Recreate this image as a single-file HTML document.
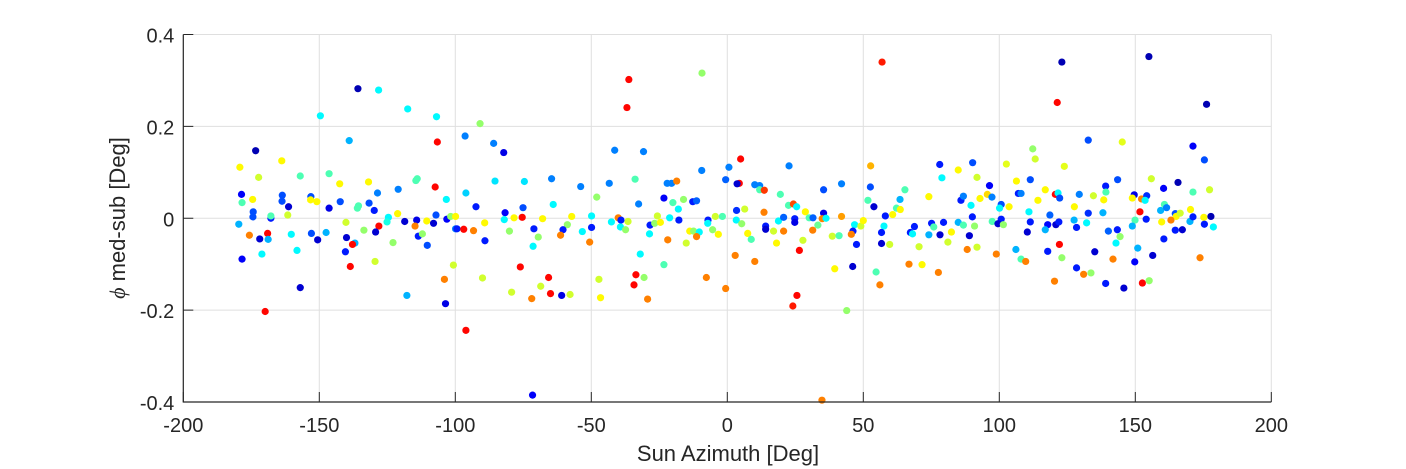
<!DOCTYPE html>
<html><head><meta charset="utf-8"><style>
html,body{margin:0;padding:0;background:#fff;}
svg{display:block;font-family:"Liberation Sans",Arial,sans-serif;}
</style></head><body>
<svg id="chart" width="1406" height="469" viewBox="0 0 1406 469" xmlns="http://www.w3.org/2000/svg">
<g id="grid"></g>
<g id="points"></g>
<g id="axes"></g>
<text x="728" y="461" font-size="22" text-anchor="middle" fill="#262626">Sun Azimuth [Deg]</text>
<text transform="translate(125,218) rotate(-90)" font-size="22" text-anchor="middle" fill="#262626"><tspan font-style="italic" font-family="Liberation Serif, serif">ϕ</tspan> med-sub [Deg]</text>
</svg>
<script>
const az = [
-135.8,-128.2,-149.6,-117.5,-106.9,-139,-106.6,-173.4,-179.2,-163.8,-172.3,-157,-146.4,-142.5,-131.9,-114,-114.5,-107.4,-121,-178.6,-178.4,-174.5,-163.6,-163.7,-161.3,-153.1,-153.2,-150.9,-146.4,-142.3,-128.6,-131.7,-135.6,-136,-129.8,-174.3,-174.4,-167.8,-167.8,-161.6,-179.6,-175.7,-171.9,-169,-168.8,-171.1,-178.4,-160.3,-158.2,-152.9,-150.6,-147.5,-157,-169.9,-140.2,-140,-136.9,-137.8,-140.4,-138.6,-133.6,-128.1,-129.3,-129.5,-122.9,-124.6,-125.1,-121.2,-118.6,-114.2,-114.8,-113.6,-112.1,-110.5,-110.3,-108,-107.1,-117.8,-103.3,-103.1,-104,-103.6,-101.7,-99.9,-99.9,-100.7,
-9.3,-36.2,-36.9,-90.9,-96.4,-85.9,-82.2,-41.4,-30.8,4.9,-9.4,4.4,-0.6,-96.1,-85.4,-74.6,-64.6,-53.9,-48,-43.4,-33.9,-22.1,-20.5,-18.6,-92.4,-81.7,-75.1,-64,-82,-78.4,-75.4,-67.9,-57.2,-58.8,-89.2,-99.4,-96.9,-93.3,-89.1,-80.1,-71.1,-69.5,-71.4,-60.4,-61.3,-53.3,-49.9,-49.9,-50.6,-90,-76.1,-79.3,-71.9,-68.6,-65.7,-65,-60.9,-57.8,-96.1,-71.6,-47.2,-46.6,-42.6,-40.1,-39.1,-39.3,-37.4,-36.5,-32.6,-28.4,-26.7,-25.7,-24.6,-28.6,-32,-33.6,-34.3,-30.6,-29.3,-23.3,-20,-16.1,-18,-21.2,-17.8,-21.9,-23.3,-12.7,-11.3,-13.8,-12.4,-10.3,-11.3,-15.1,-7.7,-7.1,-7.2,-5.4,-4.4,-3.3,-1.8,-0.6,0.6,
56.9,22.7,52.7,3.6,10.1,11.9,11.9,13.6,19.5,35.4,42,52.6,3.4,6.4,3.3,5.3,13.5,22.5,24.3,25.5,28.7,18.8,20.7,24.8,24.8,30.1,31.5,35.4,34.9,36.3,42,33.3,31.4,14.1,14.1,17,20.7,7.5,8.8,18.1,27.8,26.5,2.9,10.1,25.6,24.1,38.6,41.1,39.5,46.1,43.9,34.8,46.8,46.2,45.6,47.5,49.1,50,51.7,53.9,58.1,60.8,62.2,63.5,63.6,65.3,57.6,56.7,56.7,59.7,54.7,56.1,66.8,71.6,70.5,67.3,68.8,68.1,74.1,75.1,75.9,74.1,78.2,79.5,77.6,78.1,78.9,84.9,90.2,91.8,82.4,81.1,84.9,85.9,86.8,86.8,89.6,90.1,90.9,89,88.2,91.8,92.9,95.6,97.3,96.4,97.4,98.9,
123,155,121.3,176.2,132.7,145.2,171.2,175.4,112.3,113.2,102.6,123.9,106.3,111.4,116.9,107,108,114.2,120.6,121.6,122.2,129.4,134.6,139.1,139.2,138.4,143.5,155.9,160.4,165.7,171.2,177.3,149.6,148.9,152.3,154.2,153.6,100.7,100.1,103.6,100.7,99.5,101.5,110.9,111.4,110.3,118.6,117.8,120.8,121.9,116.9,127.6,127.5,128.4,132.7,132.1,138.1,140.1,143.4,144.4,142.9,149.9,148.9,151.7,154,159.3,160.7,161.5,164.7,165,166.5,170.3,163.1,159.7,164.7,167.3,170.1,171.2,175.2,177.8,175.4,178.7,160.5,106.1,108,109.7,117.8,122.1,123,128.4,131,133.7,135.1,120.3,139.1,145.8,141.8,149.8,150.9,156.4,152.6,155.1,173.8
];
const phi = [
0.282,0.279,0.223,0.238,0.221,0.169,0.166,0.147,0.111,0.125,0.089,0.092,0.097,0.075,0.079,0.086,0.082,0.068,0.063,0.052,0.034,0.041,0.050,0.037,0.025,0.047,0.040,0.036,0.022,0.036,0.055,0.033,0.027,0.022,0.017,0.014,0.003,0.0,0.005,0.007,-0.013,-0.037,-0.045,-0.033,-0.046,-0.078,-0.089,-0.035,-0.070,-0.033,-0.047,-0.031,-0.151,-0.203,-0.009,-0.042,-0.054,-0.057,-0.073,-0.105,-0.026,-0.017,-0.030,-0.094,-0.053,0.002,-0.008,0.010,-0.007,-0.004,-0.017,-0.039,-0.034,-0.006,-0.059,-0.011,0.007,-0.168,0.041,-0.002,-0.133,-0.186,0.004,0.004,-0.023,-0.102,
0.316,0.302,0.241,0.206,0.179,0.163,0.143,0.148,0.145,0.129,0.104,0.076,0.084,0.055,0.081,0.080,0.086,0.069,0.046,0.076,0.085,0.076,0.076,0.081,0.025,0.012,0.023,0.030,-0.003,0.001,0.002,-0.001,0.004,-0.014,-0.010,-0.023,-0.024,-0.027,-0.049,-0.028,-0.023,-0.041,-0.061,-0.025,-0.037,-0.029,0.005,-0.020,-0.052,-0.130,-0.106,-0.161,-0.175,-0.148,-0.129,-0.164,-0.168,-0.166,-0.244,-0.385,-0.133,-0.173,-0.008,0.001,-0.004,-0.019,-0.025,-0.007,0.031,-0.015,-0.011,0.005,-0.009,-0.034,-0.078,-0.123,-0.145,-0.129,-0.176,0.044,0.034,0.041,0.020,0.001,-0.004,-0.047,-0.101,0.036,0.038,-0.028,-0.028,-0.030,-0.040,-0.054,-0.129,-0.004,-0.011,-0.025,0.004,-0.035,0.004,-0.153,0.111,
0.340,0.114,0.114,0.075,0.073,0.071,0.062,0.061,0.052,0.062,0.075,0.068,0.017,0.020,-0.004,-0.012,0.013,0.028,0.031,0.025,0.014,-0.006,0.002,-0.001,-0.009,0.001,0.001,0.011,-0.001,0.0,0.004,-0.015,-0.026,-0.017,-0.024,-0.028,-0.028,-0.033,-0.046,-0.054,-0.048,-0.070,-0.081,-0.094,-0.168,-0.191,-0.039,-0.038,-0.110,-0.105,-0.201,-0.396,-0.014,-0.028,-0.035,-0.057,-0.017,-0.005,0.039,0.025,0.005,0.008,0.022,0.041,0.019,0.062,-0.017,-0.031,-0.055,-0.057,-0.117,-0.145,-0.100,-0.101,-0.062,-0.031,-0.018,-0.034,0.047,-0.011,-0.019,-0.036,-0.036,-0.009,-0.118,0.117,0.088,0.105,0.121,0.089,-0.030,-0.052,-0.009,0.039,0.048,-0.015,0.028,0.003,-0.017,-0.038,-0.068,-0.063,0.043,0.052,0.046,0.071,-0.007,-0.078,
0.340,0.352,0.252,0.248,0.170,0.166,0.157,0.127,0.151,0.129,0.118,0.113,0.081,0.084,0.062,0.054,0.054,0.039,0.052,0.055,0.044,0.052,0.049,0.070,0.057,0.040,0.084,0.086,0.065,0.078,0.057,0.062,0.051,0.044,0.042,0.049,0.039,0.030,0.022,0.025,-0.002,-0.012,-0.014,0.014,-0.008,-0.030,0.007,-0.014,-0.014,-0.008,-0.025,0.025,-0.004,-0.020,0.011,-0.010,0.012,-0.028,-0.025,-0.040,-0.054,-0.004,-0.017,0.014,-0.002,0.017,0.030,0.023,0.010,0.004,0.011,0.019,-0.004,-0.008,-0.026,-0.025,-0.007,0.003,0.002,0.004,-0.013,-0.019,-0.045,-0.068,-0.089,-0.094,-0.072,-0.057,-0.086,-0.108,-0.122,-0.119,-0.073,-0.137,-0.142,-0.152,-0.089,-0.095,-0.065,-0.081,-0.141,-0.136,-0.086
];
const cval = [
.05,.37,.37,.37,.37,.3,.87,.05,.63,.63,.58,.45,.45,.63,.63,.45,.45,.87,.25,.12,.45,.63,.2,.2,.08,.2,.63,.63,.1,.2,.25,.2,.45,.45,.15,.2,.2,.15,.45,.58,.3,.75,.08,.87,.3,.37,.12,.37,.37,.2,.08,.3,.08,.87,.58,.08,.3,.87,.15,.87,.52,.87,.08,.58,.52,.37,.4,.63,.08,.1,.75,.15,.52,.63,.2,.08,.2,.3,.37,.12,.75,.1,.52,.63,.25,.58,
.52,.87,.87,.52,.25,.25,.1,.25,.25,.87,.25,.87,.22,.33,.35,.35,.25,.25,.52,.25,.45,.25,.25,.75,.15,.12,.2,.37,.37,.63,.87,.63,.63,.52,.63,.15,.87,.75,.15,.52,.15,.52,.37,.15,.75,.37,.37,.15,.75,.58,.87,.58,.75,.58,.87,.87,.1,.58,.87,.12,.58,.63,.37,.75,.15,.37,.52,.58,.25,.15,.52,.58,.63,.37,.37,.87,.87,.52,.75,.12,.45,.52,.37,.37,.15,.75,.45,.15,.22,.63,.52,.37,.75,.58,.75,.15,.37,.52,.58,.63,.45,.75,.25,
.85,.25,.7,.08,.25,.25,.45,.82,.45,.2,.25,.2,.17,.58,.37,.52,.75,.45,.8,.37,.63,.37,.22,.15,.1,.45,.22,.1,.75,.37,.72,.48,.75,.15,.08,.58,.75,.63,.45,.63,.58,.87,.75,.75,.87,.85,.58,.45,.63,.08,.52,.75,.37,.15,.75,.15,.58,.63,.45,.08,.15,.63,.45,.3,.63,.45,.37,.15,.08,.58,.45,.75,.75,.63,.58,.15,.15,.37,.63,.15,.45,.3,.08,.15,.75,.15,.37,.63,.2,.58,.63,.58,.3,.15,.25,.45,.37,.15,.52,.08,.75,.58,.63,.66,.25,.12,.45,.75,
.05,.05,.87,.05,.2,.6,.12,.2,.52,.58,.6,.6,.63,.2,.63,.15,.25,.63,.87,.37,.2,.25,.58,.15,.45,.63,.2,.58,.12,.05,.45,.58,.1,.63,.75,.17,.37,.2,.37,.63,.15,.08,.52,.37,.15,.08,.22,.13,.08,.15,.3,.63,.3,.15,.17,.37,.3,.22,.15,.52,.37,.45,.3,.87,.15,.3,.45,.25,.2,.63,.58,.63,.75,.63,.15,.08,.3,.15,.63,.05,.15,.37,.15,.3,.45,.75,.15,.87,.52,.15,.75,.52,.08,.75,.15,.08,.75,.12,.3,.08,.87,.52,.75
];
const xTicks = [-200,-150,-100,-50,0,50,100,150,200];
const yTicks = [-0.4,-0.2,0,0.2,0.4];

const L=183.3, R=1271.3, T=34.5, B=402;
const xS = v => L + (v+200)/400*(R-L);
const yS = v => B - (v+0.4)/0.8*(B-T);
const NS='http://www.w3.org/2000/svg';
function mk(tag, attrs){const e=document.createElementNS(NS,tag);for(const k in attrs)e.setAttribute(k,attrs[k]);return e;}
function jet(c){const cl=v=>Math.max(0,Math.min(1,v));
 const r=cl(1.5-Math.abs(4*c-3)),g=cl(1.5-Math.abs(4*c-2)),b=cl(1.5-Math.abs(4*c-1));
 return `rgb(${Math.round(r*255)},${Math.round(g*255)},${Math.round(b*255)})`;}
const grid=document.getElementById('grid'), axes=document.getElementById('axes'), pts=document.getElementById('points');
xTicks.forEach(t=>{
 const gl=mk('line',{x1:xS(t),x2:xS(t),y1:T,y2:B,stroke:'#dfdfdf','stroke-width':1});
 
 
 grid.appendChild(gl);
 const tk=mk('line',{x1:xS(t),x2:xS(t),y1:B,y2:B-10,stroke:'#262626','stroke-width':1});
 
 
 axes.appendChild(tk);
 const tx=mk('text',{x:xS(t),y:B+30,'font-size':20,'text-anchor':'middle',fill:'#262626'});
 tx.textContent=String(t);
 
 
 axes.appendChild(tx);
});
yTicks.forEach(t=>{
 const gl=mk('line',{x1:L,x2:R,y1:yS(t),y2:yS(t),stroke:'#dfdfdf','stroke-width':1});
 
 
 grid.appendChild(gl);
 const tk=mk('line',{x1:L,x2:L+10,y1:yS(t),y2:yS(t),stroke:'#262626','stroke-width':1});
 
 
 axes.appendChild(tk);
 const tx=mk('text',{x:L-9,y:yS(t)+8,'font-size':20,'text-anchor':'end',fill:'#262626'});
 tx.textContent=(t===0?'0':t.toFixed(1));
 
 
 axes.appendChild(tx);
});
const ax=mk('path',{d:`M${L},${T} L${L},${B} L${R},${B}`,fill:'none',stroke:'#262626','stroke-width':1.2});


axes.appendChild(ax);
for(let i=0;i<az.length;i++){
 const c=mk('circle',{cx:xS(az[i]),cy:yS(phi[i]),r:3.6,fill:jet(cval[i])});
 
 
 pts.appendChild(c);
}
</script>
</body></html>
